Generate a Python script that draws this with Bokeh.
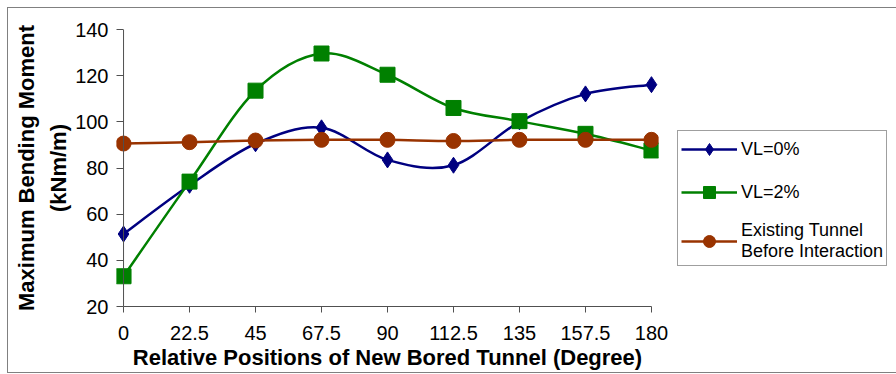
import numpy as np
from bokeh.plotting import figure
from bokeh.models import (ColumnDataSource, FixedTicker, Legend, LegendItem, Range1d, Span, Title)
from bokeh.embed import file_html
from bokeh.resources import INLINE

# ---- data ----
x_pos = [0, 22.5, 45, 67.5, 90, 112.5, 135, 157.5, 180]
x_tick_labels = ["0", "22.5", "45", "67.5", "90", "112.5", "135", "157.5", "180"]
vl0 = [51.4, 72.5, 90.5, 97.4, 83.5, 81.2, 100.0, 112.1, 116.1]
vl2 = [33.1, 74.1, 113.5, 129.6, 120.4, 106.0, 100.3, 94.8, 87.6]
existing = [90.6, 91.2, 91.9, 92.2, 92.2, 91.7, 92.2, 92.2, 92.2]
y_ticks = [20, 40, 60, 80, 100, 120, 140]
series_names = ["VL=0%", "VL=2%", "Existing Tunnel\nBefore Interaction"]
colors = ["#000080", "#008000", "#993300"]
y_title = ["Maximum Bending Moment", "(kNm/m)"]
x_title = "Relative Positions of New Bored Tunnel (Degree)"

FONT = "Liberation Sans"
AX = "#505050"


def smooth(x, y):
    """Bezier segments (Catmull-Rom style smoothing, like a smoothed spreadsheet line)."""
    x = np.asarray(x, float)
    y = np.asarray(y, float)
    xp = np.concatenate([[x[0]], x, [x[-1]]])
    yp = np.concatenate([[y[0]], y, [y[-1]]])
    n = len(x)
    d = dict(x0=[], y0=[], x1=[], y1=[], cx0=[], cy0=[], cx1=[], cy1=[])
    for i in range(n - 1):
        p0x, p0y = xp[i], yp[i]
        p1x, p1y = xp[i + 1], yp[i + 1]
        p2x, p2y = xp[i + 2], yp[i + 2]
        p3x, p3y = xp[i + 3], yp[i + 3]
        d["x0"].append(p1x); d["y0"].append(p1y)
        d["x1"].append(p2x); d["y1"].append(p2y)
        d["cx0"].append(p1x + (p2x - p0x) / 6.0); d["cy0"].append(p1y + (p2y - p0y) / 6.0)
        d["cx1"].append(p2x - (p3x - p1x) / 6.0); d["cy1"].append(p2y - (p3y - p1y) / 6.0)
    return ColumnDataSource(d)


p = figure(frame_width=542, frame_height=277, output_backend="svg", toolbar_location=None,
           x_range=Range1d(-2.4, 182.4), y_range=Range1d(20, 140),
           min_border_left=108, min_border_right=228, min_border_top=21, min_border_bottom=66)
p.styles = {"border": "1px solid #808080", "margin": "7px 0 0 7px"}
p.outline_line_color = None
p.xgrid.visible = False
p.ygrid.visible = False

# axes
p.xaxis.ticker = FixedTicker(ticks=x_pos)
p.xaxis.major_label_overrides = {xv: lab for xv, lab in zip(x_pos, x_tick_labels)}
p.xaxis.bounds = (0, 180)
p.xaxis.major_tick_in = 0
p.xaxis.major_tick_out = 6
p.yaxis.ticker = FixedTicker(ticks=y_ticks)
p.yaxis.axis_line_color = None
p.yaxis.major_tick_in = 7
p.yaxis.major_tick_out = 0
for ax in (p.xaxis[0], p.yaxis[0]):
    ax.major_tick_line_color = AX
    ax.minor_tick_line_color = None
    ax.major_label_text_font = FONT
    ax.major_label_text_font_size = "20px"
    ax.major_label_text_color = "#000000"
p.xaxis.axis_line_color = AX
p.xaxis.major_label_standoff = 13
p.yaxis.major_label_standoff = 8
p.xaxis.axis_label = x_title
p.xaxis.axis_label_text_font = FONT
p.xaxis.axis_label_text_font_size = "22px"
p.xaxis.axis_label_text_font_style = "bold"
p.xaxis.axis_label_text_color = "#000000"
p.xaxis.axis_label_standoff = 2

# vertical axis line at x = 0
p.add_layout(Span(location=0, dimension="height", line_color=AX, line_width=1))

# y-axis title (two lines), nearest line first
for txt, so in zip(reversed(y_title), (4, 6)):
    p.add_layout(Title(text=txt, align="center", text_font=FONT, text_font_size="22px",
                       text_font_style="bold", text_color="#000000", standoff=so), "left")

items = []
series = [vl0, vl2, existing]
markers = [("diamond", 16), ("square", 15), ("circle", 15)]
for ys, col, name, (mk, sz) in zip(series, colors, series_names, markers):
    src = smooth(x_pos, ys)
    r_line = p.bezier(x0="x0", y0="y0", x1="x1", y1="y1", cx0="cx0", cy0="cy0",
                      cx1="cx1", cy1="cy1", source=src, line_color=col, line_width=2.5)
    r_mk = p.scatter(x=x_pos, y=ys, marker=mk, size=sz,
                     fill_color=col, line_color=col)
    items.append(LegendItem(label=name, renderers=[r_line, r_mk]))

legend = Legend(items=items, location=(19, 40), orientation="vertical",
                label_text_font=FONT, label_text_font_size="18px",
                label_text_color="#000000", glyph_width=56, glyph_height=30,
                label_standoff=4, spacing=13, padding=3, margin=0,
                border_line_color="#404040", border_line_width=1,
                background_fill_alpha=1.0)
p.add_layout(legend, "right")

open("out.html", "w").write(file_html(p, INLINE))
